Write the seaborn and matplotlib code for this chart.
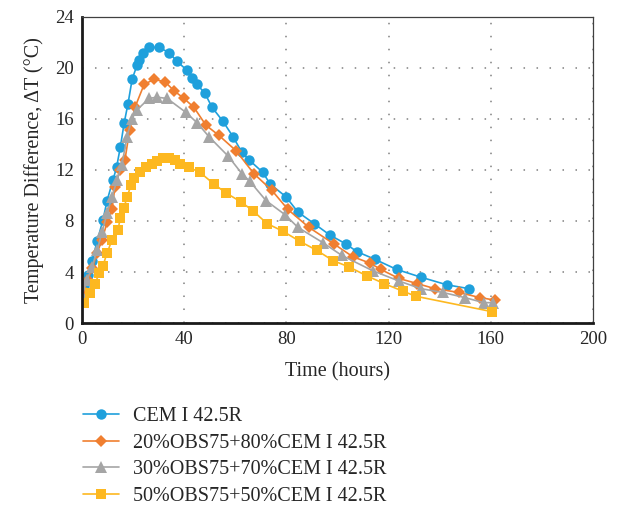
import numpy as np
import pandas as pd
import matplotlib
matplotlib.use("Agg")
import matplotlib.pyplot as plt
import seaborn as sns

# Dados (tempo em horas, diferença de temperatura em °C)
t_cem = [0, 0.8, 2.3, 3.9, 5.9, 8.2, 9.8, 12.1, 13.5, 15.0, 16.5, 18.0, 19.6, 21.5, 22.3,
         23.9, 26.2, 30.1, 34.0, 37.2, 41.1, 43.0, 45.0, 48.1, 50.9, 55.2, 59.1, 62.5,
         65.3, 70.8, 73.6, 79.8, 84.5, 90.8, 97.0, 103.3, 107.6, 114.6, 123.2, 132.6,
         142.8, 151.4]
dT_cem = [2.35, 2.9, 3.8, 4.9, 6.4, 8.1, 9.6, 11.2, 12.2, 13.8, 15.7, 17.2, 19.1, 20.2,
          20.6, 21.2, 21.6, 21.6, 21.2, 20.5, 19.8, 19.2, 18.7, 18.0, 16.9, 15.8, 14.6,
          13.4, 12.8, 11.8, 10.9, 9.9, 8.7, 7.8, 6.9, 6.2, 5.6, 5.0, 4.2, 3.6, 3.0, 2.7]

t_20 = [0.4, 2.3, 4.0, 5.9, 7.8, 9.8, 11.7, 12.9, 14.8, 16.8, 18.6, 20.7, 24.3, 28.2,
        32.5, 36.0, 39.9, 43.8, 48.5, 53.6, 60.3, 67.3, 74.3, 80.6, 88.8, 98.6, 106.0,
        112.7, 117.0, 124.0, 131.1, 138.1, 147.5, 155.7, 161.6]
dT_20 = [2.6, 3.4, 4.3, 5.5, 6.5, 7.9, 8.9, 10.7, 12.0, 12.8, 15.1, 16.9, 18.7, 19.1,
         18.9, 18.2, 17.6, 16.9, 15.5, 14.7, 13.5, 11.7, 10.4, 8.9, 7.5, 6.2, 5.2,
         4.7, 4.2, 3.5, 3.1, 2.7, 2.4, 2.0, 1.8]

t_30 = [0, 2.0, 3.9, 5.9, 7.8, 9.8, 11.7, 13.7, 15.6, 17.6, 19.5, 21.5, 26.2, 29.3,
        33.3, 40.7, 45.0, 49.7, 57.1, 62.6, 65.7, 72.0, 79.4, 84.5, 94.3, 101.7,
        113.8, 124.0, 132.6, 141.2, 149.8, 157.3, 160.8]
dT_30 = [2.2, 3.4, 4.4, 5.7, 7.1, 8.6, 9.9, 11.2, 12.4, 14.6, 16.0, 16.7, 17.6, 17.7,
         17.6, 16.5, 15.7, 14.6, 13.1, 11.7, 11.1, 9.6, 8.5, 7.5, 6.3, 5.3, 4.1, 3.3,
         2.7, 2.4, 2.0, 1.6, 1.6]

t_50 = [0.8, 3.1, 5.1, 6.7, 8.2, 9.8, 11.7, 14.1, 14.9, 16.4, 17.6, 19.2, 20.3, 22.7,
        25.0, 27.4, 29.3, 31.7, 34.0, 36.4, 38.3, 41.9, 46.2, 51.6, 56.3, 62.2, 66.9,
        72.4, 78.6, 85.3, 91.9, 98.2, 104.5, 111.5, 118.2, 125.6, 130.7, 160.4]
dT_50 = [1.6, 2.35, 3.1, 3.9, 4.5, 5.5, 6.5, 7.3, 8.2, 9.0, 9.9, 10.8, 11.4, 11.8,
         12.2, 12.5, 12.7, 12.9, 12.9, 12.8, 12.5, 12.2, 11.8, 10.9, 10.2, 9.5, 8.8,
         7.8, 7.2, 6.4, 5.7, 4.9, 4.4, 3.7, 3.1, 2.5, 2.1, 0.9]

labels = ["CEM I 42.5R", "20%OBS75+80%CEM I 42.5R",
          "30%OBS75+70%CEM I 42.5R", "50%OBS75+50%CEM I 42.5R"]
cores = ["#1fa0dc", "#f07f30", "#a5a5a5", "#fdb820"]
marcadores = ["o", "D", "^", "s"]
tamanhos = [7.5, 6, 8, 7.5]

series = [(t_cem, dT_cem), (t_20, dT_20), (t_30, dT_30), (t_50, dT_50)]

sns.set_style("white")
plt.rcParams["font.family"] = ["Liberation Serif", "DejaVu Serif"]

fig = plt.figure(figsize=(6.17, 5.08), dpi=100)
ax = fig.add_axes([0.133, 0.364, 0.828, 0.603])

for (t, dT), lab, c, m, ms in zip(series, labels, cores, marcadores, tamanhos):
    df = pd.DataFrame({"Tempo": t, "dT": dT})
    sns.lineplot(data=df, x="Tempo", y="dT", ax=ax, color=c, marker=m,
                 markersize=ms, markeredgewidth=0, linewidth=1.2,
                 sort=False, label=lab)

ax.set_xlim(0, 200)
ax.set_ylim(0, 24)
ax.set_xticks(np.arange(0, 201, 40))
ax.set_yticks(np.arange(0, 25, 4))
ax.grid(True, color="#808080", linestyle=(0, (1, 7.5)), linewidth=1.1)
ax.set_axisbelow(True)
ax.tick_params(axis="both", length=0, labelsize=13.5, pad=6)

for s in ["left", "bottom"]:
    ax.spines[s].set_color("#1a1a1a")
    ax.spines[s].set_linewidth(2)
for s in ["top", "right"]:
    ax.spines[s].set_color("#404040")
    ax.spines[s].set_linewidth(0.9)

ax.set_xlabel("Time (hours)", fontsize=14.5, labelpad=10)
ax.set_ylabel("Temperature Difference, ΔT (°C)", fontsize=14.5, labelpad=8)

leg = ax.legend(loc="upper left", bbox_to_anchor=(0.122, 0.215),
                bbox_transform=fig.transFigure, frameon=False, fontsize=14.5,
                handlelength=1.75, handletextpad=0.7, labelspacing=0.38,
                borderaxespad=0)

fig.savefig("out.png", dpi=100)
